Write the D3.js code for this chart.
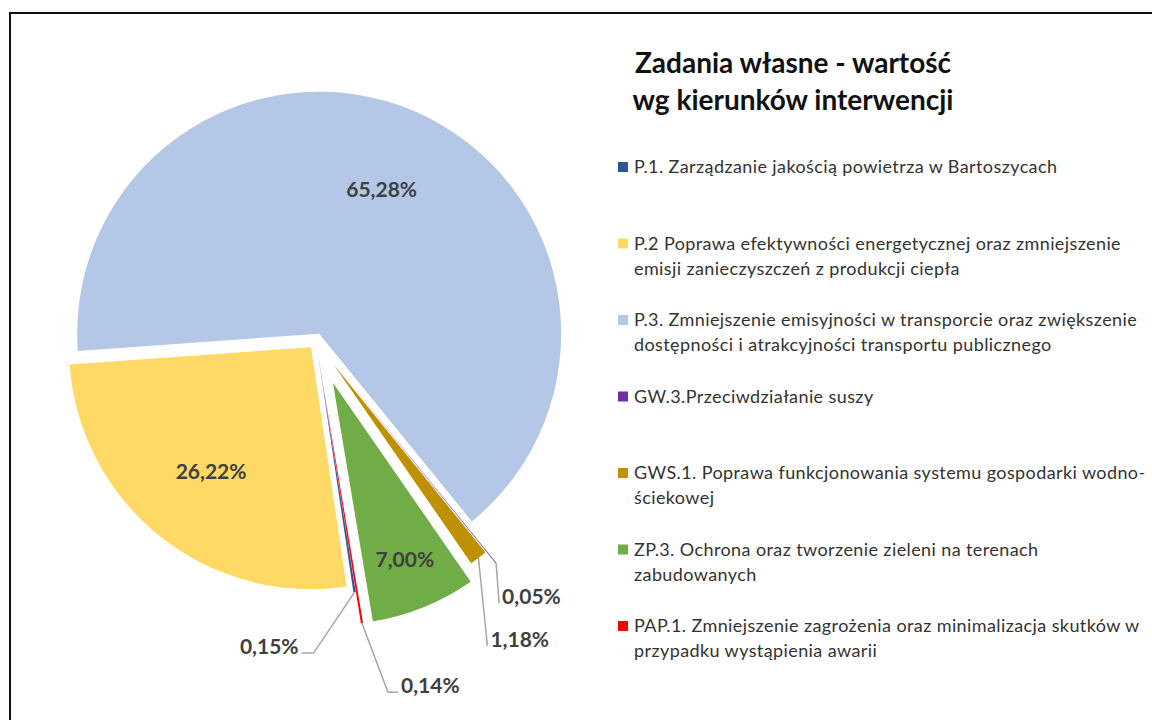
<!DOCTYPE html>
<html>
<head>
<meta charset="utf-8">
<script src="https://cdn.jsdelivr.net/npm/d3@7"></script>
<style>
  body { margin: 0; background: #fff; }
  svg { display: block; font-family: Lato, "Open Sans", sans-serif; }
</style>
</head>
<body>
<svg width="1152" height="720"></svg>
<script>
'use strict';
const svg = d3.select('svg');

// data
const title_lines = ['Zadania własne - wartość', 'wg kierunków interwencji'];
const categories = [
  'P.1. Zarządzanie jakością powietrza w Bartoszycach',
  'P.2 Poprawa efektywności energetycznej oraz zmniejszenie\nemisji zanieczyszczeń z produkcji ciepła',
  'P.3. Zmniejszenie emisyjności w transporcie oraz zwiększenie\ndostępności i atrakcyjności transportu publicznego',
  'GW.3.Przeciwdziałanie suszy',
  'GWS.1. Poprawa funkcjonowania systemu gospodarki wodno-\nściekowej',
  'ZP.3. Ochrona oraz tworzenie zieleni na terenach\nzabudowanych',
  'PAP.1. Zmniejszenie zagrożenia oraz minimalizacja skutków w\nprzypadku wystąpienia awarii'
];
const shares = [0.15, 26.22, 65.28, 0.05, 1.18, 7.00, 0.14];
const colors = ['#2F5597', '#FFD966', '#B4C7E7', '#7030A0', '#BF9000', '#70AD47', '#FF0000'];

// layout / style per slice
const explode = [12, 8, 8, 44, 29, 45, 44];
// inside label: radius fraction; outside label: leader elbow and end offsets from outer arc point
const label_style = [
  {elbow: [-41, 61], end: [-53, 61], anchor: 'end'},
  {inside: 0.66},
  {inside: 0.65},
  {elbow: [3, 40], end: [3, 40], anchor: 'start'},
  {elbow: [9, 88], end: [9, 88], anchor: 'start'},
  {inside: 0.79},
  {elbow: [26, 69], end: [36, 69], anchor: 'start'}
];

const pl = d3.formatLocale({decimal: ',', thousands: ' ', grouping: [3], currency: ['', '']});
const fmt = v => pl.format('.2f')(v) + '%';

// frame
svg.append('path')
  .attr('d', 'M10,720V13H1152')
  .attr('fill', 'none')
  .attr('stroke', '#111')
  .attr('stroke-width', 2);

// pie
const cx = 316, cy = 341, radius = 242;
const start = 171 * Math.PI / 180;
const pie = d3.pie().sort(null).value(d => d)
  .startAngle(start).endAngle(start + 2 * Math.PI);
const arcs = pie(shares);
const arc = d3.arc().innerRadius(0).outerRadius(radius);

const pie_g = svg.append('g').attr('transform', `translate(${cx},${cy})`);
const slice = pie_g.selectAll('g.slice').data(arcs).enter()
  .append('g')
    .attr('class', 'slice')
    .attr('transform', (d, i) => {
      const mid = (d.startAngle + d.endAngle) / 2;
      return `translate(${Math.sin(mid) * explode[i]},${-Math.cos(mid) * explode[i]})`;
    });

slice.append('path')
  .attr('d', arc)
  .attr('fill', (d, i) => colors[i]);

// data labels
slice.each(function(d, i) {
  const g = d3.select(this);
  const mid = (d.startAngle + d.endAngle) / 2;
  const st = label_style[i];
  if (st.inside) {
    g.append('text')
      .attr('x', Math.sin(mid) * radius * st.inside)
      .attr('y', -Math.cos(mid) * radius * st.inside)
      .attr('dy', '0.35em')
      .attr('text-anchor', 'middle')
      .attr('font-size', 21)
      .attr('font-weight', 'bold')
      .attr('fill', '#404040')
      .text(fmt(d.data));
  } else {
    const x0 = Math.sin(mid) * radius, y0 = -Math.cos(mid) * radius;
    const x1 = x0 + st.elbow[0], y1 = y0 + st.elbow[1];
    const x2 = x0 + st.end[0], y2 = y0 + st.end[1];
    g.append('path')
      .attr('d', `M${x0},${y0}L${x1},${y1}L${x2},${y2}`)
      .attr('fill', 'none')
      .attr('stroke', '#A6A6A6')
      .attr('stroke-width', 1.5);
    g.append('text')
      .attr('x', st.anchor === 'end' ? x2 - 3 : x2 + 3)
      .attr('y', y2 + 1)
      .attr('text-anchor', st.anchor)
      .attr('font-size', 21)
      .attr('font-weight', 'bold')
      .attr('fill', '#404040')
      .text(fmt(d.data));
  }
});

// title
svg.append('text')
  .attr('x', 793)
  .attr('y', 73)
  .attr('text-anchor', 'middle')
  .attr('font-size', 28)
  .attr('font-weight', 'bold')
  .attr('fill', '#111')
  .selectAll('tspan').data(title_lines).enter()
  .append('tspan')
    .attr('x', 793)
    .attr('dy', (d, i) => i === 0 ? 0 : 37)
    .text(d => d);

// legend
const legend_y = d3.scalePoint().domain(categories).range([167, 626]);
const legend = svg.append('g')
  .selectAll('g').data(categories).enter()
  .append('g')
    .attr('transform', d => `translate(618,${legend_y(d)})`);

legend.append('rect')
  .attr('x', 0)
  .attr('y', -5)
  .attr('width', 10)
  .attr('height', 10)
  .attr('fill', (d, i) => colors[i]);

legend.append('text')
  .attr('font-size', 18)
  .attr('letter-spacing', 0.4)
  .attr('fill', '#333')
  .selectAll('tspan').data(d => d.split('\n')).enter()
  .append('tspan')
    .attr('x', 16)
    .attr('y', (d, i) => i * 25)
    .attr('dy', '0.35em')
    .text(d => d);
</script>
</body>
</html>
